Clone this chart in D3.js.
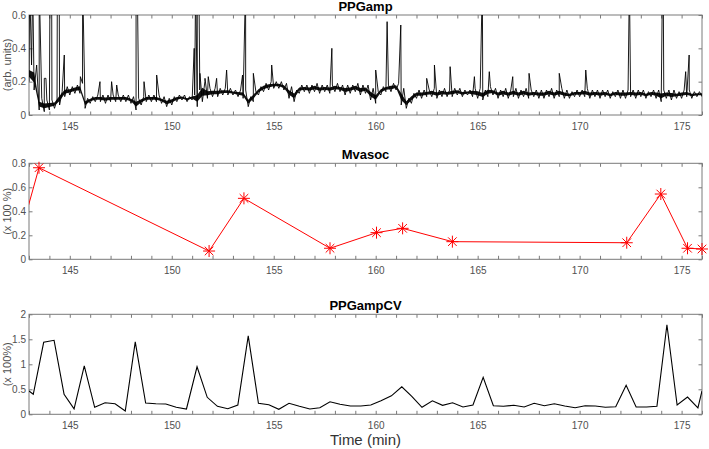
<!DOCTYPE html>
<html>
<head>
<meta charset="utf-8">
<script src="https://cdn.jsdelivr.net/npm/d3@7"></script>
<style>
  body { margin: 0; background: #fff; }
  svg { display: block; font-family: 'Liberation Sans', Arial, sans-serif; }
</style>
</head>
<body>
<div id="chart"></div>
<script>
// PPGamp: min/max envelope per 0.25 min bin, starting at 143 min
const ampStart = 143
const ampStep = 0.25
const ampLo = [
  .20, .15, .03, .02,  .03, .04, .06, .11,  .12, .13, .13, .04,  .07, .08, .08, .07,
  .08, .08, .08, .08,  .07, .03, .06, .08,  .08, .08, .07, .05,  .06, .08, .09, .08,
  .09, .05, .08, .10,  .11, .11, .12, .12,  .12, .11, .10, .05,  .08, .12, .14, .15,
  .16, .16, .15, .10,  .08, .13, .14, .13,  .14, .13, .14, .13,  .14, .14, .12, .13,
  .14, .12, .13, .09,  .07, .12, .14, .14,  .15, .06, .04, .07,  .10, .10, .11, .11,
  .10, .11, .11, .11,  .12, .11, .12, .11,  .10, .09, .11, .12,  .10, .11, .10, .11,
  .10, .11, .10, .11,  .10, .10, .11, .10,  .11, .10, .10, .11,  .11, .11, .10, .11,
  .10, .11, .10, .11,  .10, .10, .11, .10,  .11, .10, .11, .10,  .08, .10, .09, .10,
  .10, .11, .10, .11,  .11
]
const ampHi = [
  .30, .30, .10, .09,  .09, .09, .14, .17,  .17, .18, .19, .10,  .11, .12, .12, .12,
  .12, .12, .12, .12,  .11, .10, .11, .12,  .12, .12, .11, .10,  .11, .12, .12, .11,
  .12, .15, .20, .16,  .16, .16, .16, .16,  .15, .15, .15, .11,  .14, .17, .19, .20,
  .20, .20, .19, .17,  .15, .18, .18, .18,  .19, .18, .18, .18,  .19, .18, .18, .18,
  .19, .18, .18, .16,  .14, .17, .18, .19,  .19, .16, .10, .13,  .15, .15, .15, .16,
  .15, .16, .15, .16,  .16, .15, .15, .16,  .16, .15, .17, .16,  .15, .16, .15, .16,
  .15, .16, .15, .15,  .15, .15, .16, .15,  .16, .15, .14, .15,  .15, .16, .15, .15,
  .15, .15, .14, .15,  .15, .15, .15, .15,  .15, .14, .15, .15,  .15, .15, .15, .14,
  .15, .15, .14, .14,  .14
]
// PPGamp artefact spikes (values above 0.6 run off the top)
const spikeTime = [143.03, 143.18, 143.50, 143.75, 143.83, 144.03, 144.11, 144.39, 144.48, 144.73,
  145.52, 145.63, 146.48, 147.05, 147.30, 148.25, 148.31, 148.64, 149.26, 151.10, 151.17, 151.25,
  151.33, 151.38, 151.63, 151.79, 152.20, 152.69, 153.47, 153.62, 154.00, 154.90, 157.85, 160.00,
  160.56, 161.23, 162.50, 162.88, 163.65, 164.84, 165.23, 165.57, 166.72, 167.52, 169.00, 170.30,
  172.44, 174.06, 174.10, 175.20, 175.37]
const spikeTop = [0.8, 0.8, 0.8, 0.22, 0.22, 0.8, 0.8, 0.8, 0.8, 0.36,
  0.23, 0.8, 0.20, 0.20, 0.18, 0.8, 0.8, 0.20, 0.24, 0.40, 0.8, 0.8,
  0.8, 0.25, 0.22, 0.23, 0.22, 0.27, 0.24, 0.8, 0.25, 0.30, 0.40, 0.27,
  0.56, 0.54, 0.22, 0.30, 0.29, 0.23, 0.8, 0.26, 0.23, 0.25, 0.25, 0.27,
  0.8, 0.8, 0.8, 0.26, 0.36]

// Mvasoc (first point lies just left of the window)
const mvTime = [142.6, 143.49, 151.83, 153.54, 157.76, 160.04, 161.32, 163.76, 172.31, 173.98, 175.29, 176.0]
const mvVal = [0.22, 0.763, 0.069, 0.508, 0.092, 0.222, 0.258, 0.147, 0.138, 0.544, 0.092, 0.086]

// PPGampCV
const cvTime = [143.00, 143.21, 143.72, 144.23, 144.72, 145.21, 145.71, 146.22, 146.73, 147.22,
  147.72, 148.21, 148.72, 149.22, 149.71, 150.22, 150.72, 151.24, 151.74, 152.24, 152.75, 153.24,
  153.75, 154.25, 154.76, 155.25, 155.75, 156.26, 156.77, 157.26, 157.76, 158.25, 158.76, 159.27,
  159.76, 160.26, 160.77, 161.28, 161.77, 162.27, 162.78, 163.28, 163.77, 164.28, 164.77, 165.27,
  165.77, 166.26, 166.77, 167.28, 167.77, 168.27, 168.76, 169.27, 169.78, 170.27, 170.77, 171.26,
  171.77, 172.28, 172.77, 173.28, 173.79, 174.28, 174.78, 175.29, 175.80, 176.00]
const cvVal = [0.466, 0.40, 1.44, 1.48, 0.40, 0.11, 0.97, 0.14, 0.23, 0.21,
  0.066, 1.45, 0.226, 0.21, 0.206, 0.14, 0.106, 0.95, 0.34, 0.16, 0.11, 0.186,
  1.57, 0.22, 0.19, 0.10, 0.22, 0.16, 0.106, 0.13, 0.25, 0.20, 0.166, 0.166,
  0.186, 0.27, 0.37, 0.55, 0.36, 0.14, 0.27, 0.18, 0.23, 0.146, 0.186, 0.74,
  0.17, 0.16, 0.18, 0.146, 0.22, 0.17, 0.21, 0.166, 0.13, 0.17, 0.166, 0.14,
  0.15, 0.58, 0.146, 0.146, 0.16, 1.79, 0.186, 0.346, 0.126, 0.466]

const xDomain = [143, 176]
const xLabelTicks = [145, 150, 155, 160, 165, 170, 175]
const ampTicks = [0, 0.2, 0.4, 0.6]
const mvTicks = [0, 0.2, 0.4, 0.6, 0.8]
const cvTicks = [0, 0.5, 1, 1.5, 2]

const W = 709, H = 449
const left = 29, right = 702
const axisColor = '#7a7a7a', textColor = '#505050'

const svg = d3.select('#chart').append('svg').attr('width', W).attr('height', H)

const x = d3.scaleLinear().domain(xDomain).range([left, right])
const minuteTicks = d3.range(xDomain[0], xDomain[1] + 1)

const panels = [
  { id: 'amp', top: 15, bottom: 115, max: 0.6, ticks: ampTicks, title: 'PPGamp', ylabel: '(arb. units)' },
  { id: 'mv', top: 163.3, bottom: 259.3, max: 0.8, ticks: mvTicks, title: 'Mvasoc', ylabel: '(x 100 %)' },
  { id: 'cv', top: 314.3, bottom: 414.3, max: 2, ticks: cvTicks, title: 'PPGampCV', ylabel: '(x 100%)' }
]

panels.forEach(function (p) {
  p.y = d3.scaleLinear().domain([0, p.max]).range([p.bottom, p.top])
  const g = svg.append('g')

  svg.append('clipPath').attr('id', 'clip-' + p.id)
    .append('rect').attr('x', left).attr('y', p.top)
    .attr('width', right - left).attr('height', p.bottom - p.top)

  // minute ticks point inward on all four sides (box on)
  const bx = g.append('g').attr('transform', 'translate(0,' + p.bottom + ')')
    .call(d3.axisBottom(x).tickValues(minuteTicks).tickSizeInner(-3.5).tickSizeOuter(0).tickPadding(8)
      .tickFormat(d => xLabelTicks.includes(d) ? d : ''))
  const tx = g.append('g').attr('transform', 'translate(0,' + p.top + ')')
    .call(d3.axisTop(x).tickValues(minuteTicks).tickSizeInner(-3.5).tickSizeOuter(0).tickFormat(''))
  const ly = g.append('g').attr('transform', 'translate(' + left + ',0)')
    .call(d3.axisLeft(p.y).tickValues(p.ticks).tickSizeInner(-3.5).tickSizeOuter(0).tickPadding(3)
      .tickFormat(d => String(d)))
  const ry = g.append('g').attr('transform', 'translate(' + right + ',0)')
    .call(d3.axisRight(p.y).tickValues(p.ticks).tickSizeInner(-3.5).tickSizeOuter(0).tickFormat(''))

  ;[bx, tx, ly, ry].forEach(a => {
    a.select('.domain').remove()
    a.selectAll('line').attr('stroke', axisColor)
    a.selectAll('text').attr('fill', textColor).style('font-size', '10px')
      .style('font-family', "'Liberation Sans', Arial, sans-serif")
  })

  g.append('rect').attr('x', left).attr('y', p.top)
    .attr('width', right - left).attr('height', p.bottom - p.top)
    .attr('fill', 'none').attr('stroke', axisColor).attr('stroke-width', 1)

  g.append('text').attr('x', (left + right) / 2).attr('y', p.top - 4)
    .attr('text-anchor', 'middle').attr('font-weight', 'bold').attr('font-size', 13)
    .attr('fill', '#000').text(p.title)

  g.append('text')
    .attr('transform', 'translate(11,' + (p.top + p.bottom) / 2 + ') rotate(-90)')
    .attr('text-anchor', 'middle').attr('font-size', 11).attr('fill', textColor)
    .text(p.ylabel)
})

// PPGamp: dark core of the envelope, then a zig-zag through lo/hi with the spikes
const amp = panels[0]
const ampBins = ampLo.map((lo, i) => [ampStart + i * ampStep, lo, ampHi[i]])

svg.append('path')
  .datum(ampBins)
  .attr('clip-path', 'url(#clip-amp)')
  .attr('fill', '#111').attr('stroke', 'none')
  .attr('d', d3.area().x(d => x(d[0]))
    .y0(d => amp.y(d[1] + (d[2] - d[1]) * 0.3))
    .y1(d => amp.y(d[2] - (d[2] - d[1]) * 0.3)))

const ampPts = []
ampBins.forEach(function (b) {
  ampPts.push([b[0], b[1]])
  ampPts.push([b[0] + ampStep / 2, b[2]])
})
spikeTime.forEach((t, i) => ampPts.push([t, spikeTop[i]]))
ampPts.sort((a, b) => a[0] - b[0])

svg.append('path')
  .datum(ampPts.filter(d => d[0] <= xDomain[1]))
  .attr('clip-path', 'url(#clip-amp)')
  .attr('fill', 'none').attr('stroke', '#000').attr('stroke-width', 0.9)
  .attr('d', d3.line().x(d => x(d[0])).y(d => amp.y(d[1])))

// Mvasoc
const mv = panels[1]
svg.append('path')
  .datum(mvTime.map((t, i) => [t, mvVal[i]]))
  .attr('clip-path', 'url(#clip-mv)')
  .attr('fill', 'none').attr('stroke', '#ff0000').attr('stroke-width', 1)
  .attr('d', d3.line().x(d => x(d[0])).y(d => mv.y(d[1])))

const star = 'M-6,0L6,0M0,-6L0,6M-4.3,-4.3L4.3,4.3M-4.3,4.3L4.3,-4.3'
svg.append('g').selectAll('path')
  .data(mvTime.map((t, i) => [t, mvVal[i]]).filter(d => d[0] >= xDomain[0]))
  .join('path')
  .attr('transform', d => 'translate(' + x(d[0]) + ',' + mv.y(d[1]) + ')')
  .attr('d', star).attr('fill', 'none').attr('stroke', '#ff0000').attr('stroke-width', 1)

// PPGampCV
const cv = panels[2]
svg.append('path')
  .datum(cvTime.map((t, i) => [t, cvVal[i]]))
  .attr('clip-path', 'url(#clip-cv)')
  .attr('fill', 'none').attr('stroke', '#000').attr('stroke-width', 1.1)
  .attr('d', d3.line().x(d => x(d[0])).y(d => cv.y(d[1])))

svg.append('text').attr('x', (left + right) / 2).attr('y', 445)
  .attr('text-anchor', 'middle').attr('font-size', 15).attr('fill', '#333')
  .text('Time (min)')
</script>
</body>
</html>
